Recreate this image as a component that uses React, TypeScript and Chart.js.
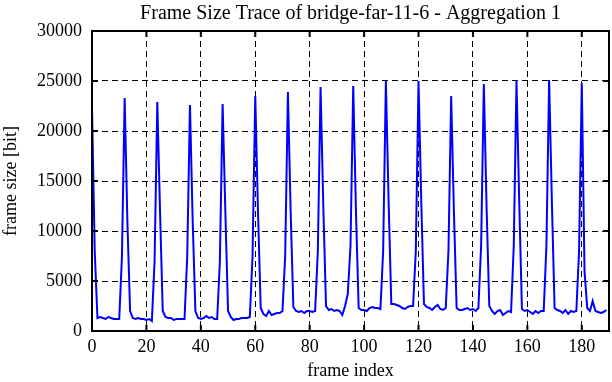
import React, { useEffect, useRef } from "react";
import { Chart, registerables } from "chart.js";

Chart.register(...registerables);

const TITLE = "Frame Size Trace of bridge-far-11-6 - Aggregation 1";
const X_LABEL = "frame index";
const Y_LABEL = "frame size [bit]";
const X_MIN = 0;
const X_MAX = 190;
const X_TICKS: number[] = [0, 20, 40, 60, 80, 100, 120, 140, 160, 180];
const Y_MIN = 0;
const Y_MAX = 30000;
const Y_TICKS: number[] = [0, 5000, 10000, 15000, 20000, 25000, 30000];

// frame sizes in bit, frames 0..189
const frameSizes: number[] = [
  22400, 8000, 1300, 1400, 1300, 1200, 1400, 1300, 1200, 1200,
  1200, 7400, 23300, 11000, 2000, 1300, 1200, 1300, 1200, 1200,
  1100, 1200, 1000, 7000, 22900, 12000, 2000, 1400, 1300, 1300,
  1100, 1200, 1200, 1200, 1200, 7500, 22600, 11000, 2000, 1300,
  1200, 1300, 1500, 1300, 1400, 1200, 1200, 7000, 22700, 12000,
  2000, 1400, 1100, 1200, 1200, 1300, 1300, 1300, 1400, 7500,
  23500, 12000, 2300, 1700, 1500, 2000, 1600, 1700, 1800, 1800,
  2000, 7500, 23900, 12000, 2400, 2000, 1900, 2000, 1800, 2000,
  2000, 1900, 2000, 8000, 24400, 12500, 2500, 2100, 2200, 2000,
  2100, 2000, 1600, 2500, 3700, 8500, 24500, 12000, 2300, 2100,
  2100, 2000, 2300, 2400, 2300, 2300, 2200, 8000, 25000, 13000,
  2700, 2700, 2600, 2500, 2300, 2200, 2400, 2500, 2500, 8000,
  25000, 13000, 2700, 2400, 2300, 2100, 2400, 2600, 2200, 2100,
  2300, 8000, 23500, 12000, 2300, 2100, 2100, 2200, 2300, 2100,
  2200, 2000, 2300, 8500, 24700, 12500, 2500, 2000, 1700, 2000,
  2100, 1600, 1800, 2000, 1900, 8500, 25000, 13000, 2200, 2000,
  2100, 1900, 1700, 2000, 1800, 2000, 2000, 8500, 25100, 13000,
  2300, 2100, 2000, 1800, 2100, 1700, 2000, 1900, 2000, 8000,
  24800, 6000, 2300, 2000, 3000, 2000, 1900, 1800, 1900, 2100,
];
const frameIndex: number[] = frameSizes.map((_, i) => i);

const FONT = "'Liberation Serif', 'Times New Roman', serif";

const framePlugin = {
  id: "frameBox",
  afterDatasetsDraw(chart: any) {
    const { ctx, chartArea, scales } = chart;
    const { left, right, top, bottom } = chartArea;
    ctx.save();
    ctx.strokeStyle = "#000";
    ctx.lineWidth = 2;
    ctx.setLineDash([]);
    ctx.strokeRect(left, top, right - left, bottom - top);
    const tl = 6;
    ctx.beginPath();
    scales.x.ticks.forEach((t: any) => {
      const px = scales.x.getPixelForValue(t.value);
      ctx.moveTo(px, bottom);
      ctx.lineTo(px, bottom - tl);
      ctx.moveTo(px, top);
      ctx.lineTo(px, top + tl);
    });
    scales.y.ticks.forEach((t: any) => {
      const py = scales.y.getPixelForValue(t.value);
      ctx.moveTo(left, py);
      ctx.lineTo(left + tl, py);
      ctx.moveTo(right, py);
      ctx.lineTo(right - tl, py);
    });
    ctx.stroke();
    // title centred over the plot area
    ctx.fillStyle = "#000";
    ctx.font = `20px ${FONT}`;
    ctx.textAlign = "center";
    ctx.textBaseline = "alphabetic";
    ctx.fillText(TITLE, (left + right) / 2, 19);
    ctx.restore();
  },
};

export default function App() {
  const ref = useRef<HTMLCanvasElement | null>(null);
  useEffect(() => {
    if (!ref.current) return;
    const chart = new Chart(ref.current, {
      type: "line",
      data: {
        datasets: [
          {
            data: frameIndex.map((x, i) => ({ x, y: frameSizes[i] })),
            borderColor: "#0000ff",
            borderWidth: 2,
            pointRadius: 0,
            tension: 0,
            fill: false,
          },
        ],
      },
      options: {
        animation: false,
        responsive: false,
        maintainAspectRatio: false,
        layout: { padding: { left: 0, right: 3, top: 31, bottom: 0 } },
        plugins: {
          legend: { display: false },
          tooltip: { enabled: false },
          title: { display: false },
        },
        scales: {
          x: {
            type: "linear",
            min: X_MIN,
            max: X_MAX,
            afterBuildTicks: (s: any) => {
              s.ticks = X_TICKS.map((v) => ({ value: v }));
            },
            afterFit: (s: any) => {
              s.height = 51;
            },
            ticks: {
              color: "#000",
              font: { family: FONT, size: 18 },
              padding: 5,
              maxRotation: 0,
              autoSkip: false,
              callback: (v: any) => String(v),
            },
            grid: {
              color: "#000",
              lineWidth: 1,
              drawTicks: false,
            },
            border: { display: false, dash: [6, 4] },
            title: {
              display: true,
              text: X_LABEL,
              color: "#000",
              font: { family: FONT, size: 18 },
              padding: { top: 0, bottom: 0 },
            },
          },
          y: {
            type: "linear",
            min: Y_MIN,
            max: Y_MAX,
            afterBuildTicks: (s: any) => {
              s.ticks = Y_TICKS.map((v) => ({ value: v }));
            },
            afterFit: (s: any) => {
              s.width = 92;
            },
            ticks: {
              color: "#000",
              font: { family: FONT, size: 18 },
              padding: 10,
              autoSkip: false,
              callback: (v: any) => String(v),
            },
            grid: {
              color: "#000",
              lineWidth: 1,
              drawTicks: false,
            },
            border: { display: false, dash: [6, 4] },
            title: {
              display: true,
              text: Y_LABEL,
              color: "#000",
              font: { family: FONT, size: 18 },
              padding: { top: 0, bottom: 0 },
            },
          },
        },
      },
      plugins: [framePlugin],
    } as any);
    return () => chart.destroy();
  }, []);
  return (
    <div style={{ position: "fixed", left: 0, top: 0, width: 612, height: 382, background: "#fff" }}>
      <canvas ref={ref} width={612} height={382} style={{ display: "block" }} />
    </div>
  );
}
